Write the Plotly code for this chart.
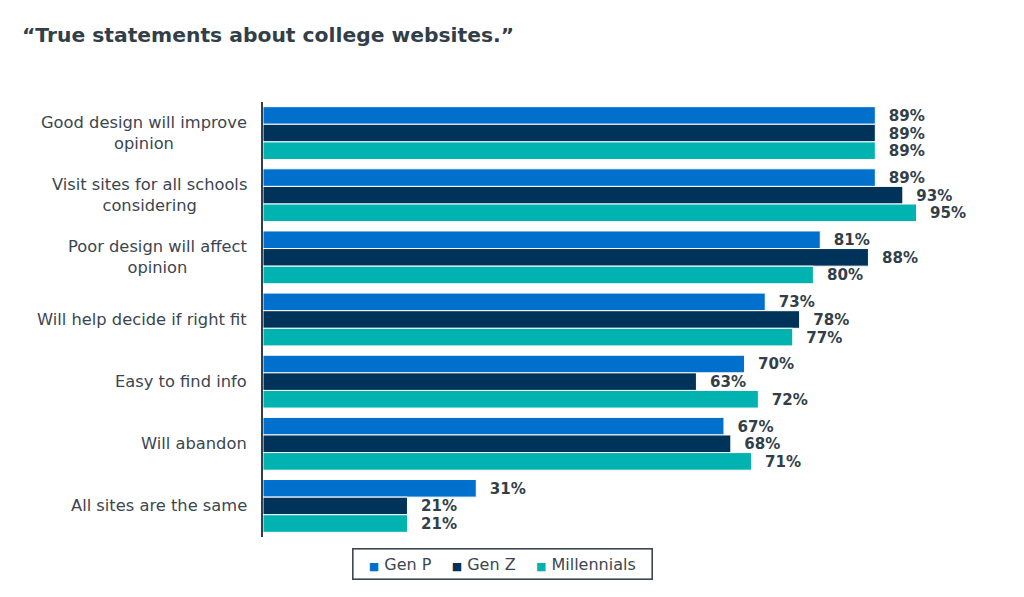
import plotly.graph_objects as go

categories = [
    "Good design will improve<br>opinion",
    "Visit sites for all schools<br>considering",
    "Poor design will affect<br>opinion",
    "Will help decide if right fit",
    "Easy to find info",
    "Will abandon",
    "All sites are the same",
]
gen_p = [89, 89, 81, 73, 70, 67, 31]
gen_z = [89, 93, 88, 78, 63, 68, 21]
millennials = [89, 95, 80, 77, 72, 71, 21]
series_names = ["Gen P", "Gen Z", "Millennials"]
series_colors = ["#0070CC", "#003359", "#00B2B0"]

FONT = "DejaVu Sans"
TEXT = "#333F48"
LABEL = "#3C4650"

W, H = 1008, 581

fig = go.Figure()
for name, vals, col in zip(series_names, [gen_p, gen_z, millennials], series_colors):
    fig.add_trace(go.Bar(
        y=categories, x=vals, name=name, orientation="h",
        marker=dict(color=col, line=dict(color="white", width=1)),
        text=vals, texttemplate="  %{x}%", textposition="outside",
        textfont=dict(family=FONT, size=18, color=TEXT, weight="bold"),
        cliponaxis=False, showlegend=False,
    ))

for c in categories:
    fig.add_annotation(
        x=-0.021, xref="paper", y=c, yref="y", text=c, showarrow=False,
        xanchor="right", yanchor="middle", align="center",
        font=dict(family=FONT, size=16.3, color=LABEL),
    )

# legend drawn as a bordered text box (small squares close to the names)
NB = "\u00a0"
legend_items = [
    f'<span style="color:{col};font-size:11px">■</span>{NB}{name}'
    for name, col in zip(series_names, series_colors)
]
legend_text = NB * 2 + (NB * 4).join(legend_items) + NB * 2
fig.add_annotation(
    x=0.3488, xref="paper", y=-0.062, yref="paper",
    xanchor="center", yanchor="middle", showarrow=False,
    text=legend_text, bordercolor=LABEL, borderwidth=1.6, borderpad=5,
    bgcolor="white", font=dict(family=FONT, size=16, color=LABEL),
)

fig.update_layout(
    width=W, height=H,
    paper_bgcolor="white", plot_bgcolor="white",
    margin=dict(l=255, r=65, t=94, b=52),
    barmode="group", bargap=0.15, bargroupgap=0,
    title=dict(text="“True statements about college websites.”",
               x=14/W, xanchor="left", y=1-27/H, yanchor="middle",
               font=dict(family=FONT, size=20.3, color=TEXT, weight="bold")),
    xaxis=dict(range=[0, 100], visible=False),
    yaxis=dict(autorange="reversed", showticklabels=False, showgrid=False,
               showline=True, linecolor="#333F48", linewidth=1.5, ticks=""),
    showlegend=False,
)

fig.write_html("out.html")
